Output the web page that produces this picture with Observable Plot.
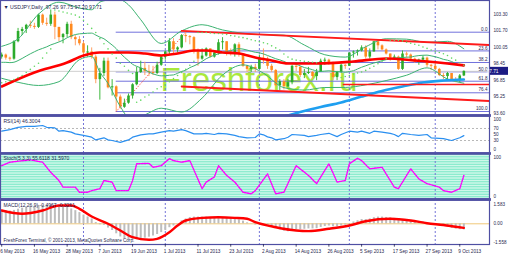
<!DOCTYPE html>
<html>
<head>
<meta charset="utf-8">
<script src="https://cdn.jsdelivr.net/npm/d3@7"></script>
<script src="https://cdn.jsdelivr.net/npm/@observablehq/plot@0.6"></script>
<style>
html, body { margin: 0; padding: 0; background: #ffffff; }
#chart { position: relative; width: 510px; height: 255px; overflow: hidden; background: #ffffff; }
#chart > svg { position: absolute; left: 0; }
</style>
</head>
<body>
<div id="chart"></div>
<script>
// ---------------- DATA ----------------
const titleText = "USDJPY,Daily  97.26 97.75 97.20 97.71";
const watermark = "Freshforex.ru";
const copyright = "FreshForex Terminal, \u00a9 2001-2013, MetaQuotes Software Corp.";

// date axis (bar index -> label)
const tickIdx = [0, 8, 16, 24, 32, 40, 48, 56, 64, 72, 80, 88, 96, 104, 112];
const tickLabels = ["6 May 2013", "16 May 2013", "28 May 2013", "7 Jun 2013", "19 Jun 2013", "1 Jul 2013",
  "11 Jul 2013", "23 Jul 2013", "2 Aug 2013", "14 Aug 2013", "26 Aug 2013", "5 Sep 2013",
  "17 Sep 2013", "27 Sep 2013", "9 Oct 2013"];
// month separators (first bar of Jun, Jul, Aug, Sep, Oct)
const sepIdx = [20, 40, 63, 85, 106];

// daily candles, 6 May 2013 .. 10 Oct 2013
const opens = [99.1,99.3,99.0,98.9,100.6,101.6,101.8,102.2,102.1,102.0,
  103.2,102.4,102.3,103.2,102.0,101.0,101.3,102.3,101.0,100.8,
  100.4,99.5,99.6,99.1,96.9,97.5,98.7,96.1,96.2,95.2,
  94.2,94.6,95.3,96.4,97.6,98.0,97.7,97.6,97.5,98.3,
  99.1,99.6,100.6,99.8,100.0,101.2,101.1,101.0,99.6,98.9,
  99.2,99.9,99.1,99.5,100.5,100.6,99.6,99.4,100.3,99.4,
  98.2,97.9,98.1,97.9,99.0,98.9,98.2,97.8,96.3,96.7,
  96.2,96.6,98.2,98.1,97.3,97.5,97.6,97.2,97.6,98.7,
  98.8,98.5,97.1,97.6,98.3,98.2,99.5,99.6,99.7,100.0,
  99.1,99.6,100.6,100.2,99.8,99.4,99.0,99.1,97.9,99.4,
  99.3,98.9,98.6,98.8,99.0,98.3,98.2,97.9,97.3,97.2,
  97.5,96.9,96.85,97.26];
const highs = [99.5,99.4,99.1,100.7,101.9,102.0,102.3,102.6,102.4,103.3,
  103.3,102.9,103.7,103.5,102.0,101.4,102.5,102.6,101.2,101.1,
  100.6,100.2,100.0,99.3,98.0,99.0,99.0,96.9,96.3,95.4,
  95.0,95.5,96.5,98.1,98.7,98.6,98.3,98.2,98.6,99.2,
  99.7,100.9,100.9,100.1,101.3,101.5,101.2,101.1,99.9,99.9,
  100.0,99.9,99.7,100.8,101.0,100.6,99.9,100.4,100.5,99.4,
  98.3,98.3,98.4,99.3,99.9,99.1,98.4,97.9,96.9,96.9,
  96.9,98.3,98.4,98.2,97.9,98.1,97.7,97.9,98.9,99.0,
  98.9,98.6,97.7,98.4,98.4,99.5,99.7,99.8,100.2,100.2,
  99.9,100.6,100.6,100.3,99.9,99.4,99.3,99.2,99.7,99.6,
  99.4,99.0,98.9,99.2,99.1,98.4,98.5,98.0,97.5,97.6,
  97.5,97.1,97.4,97.75];
const lows = [98.9,98.8,98.7,98.8,100.5,101.2,101.4,101.9,101.8,101.9,
  102.2,102.1,102.1,100.8,100.6,100.4,101.0,100.8,100.2,100.2,
  99.1,99.1,98.9,96.5,94.9,97.2,96.0,95.3,93.8,94.0,
  94.1,94.5,95.0,96.3,97.5,97.3,97.2,97.3,97.4,98.2,
  98.8,99.3,99.4,99.5,99.9,100.5,100.3,99.4,98.2,98.8,
  99.1,99.0,99.0,99.3,99.8,99.2,99.2,99.1,99.1,98.1,
  97.6,97.6,97.6,97.9,98.4,97.9,97.6,96.2,95.8,95.9,
  96.1,96.4,97.7,97.1,97.0,97.4,96.9,96.8,97.6,98.3,
  98.3,96.8,96.8,97.5,97.9,98.2,99.0,99.2,99.6,98.9,
  98.9,99.6,99.8,99.7,99.3,98.7,98.9,97.8,97.8,99.0,
  98.8,98.5,98.3,98.7,98.1,97.8,97.8,97.2,96.9,96.9,
  96.9,96.6,96.6,97.20];
const closes = [99.3,99.0,98.9,100.6,101.6,101.8,102.2,102.1,102.0,103.2,
  102.4,102.3,103.2,102.0,101.0,101.3,102.3,101.0,100.8,100.4,
  99.5,99.6,99.1,96.9,97.5,98.7,96.1,96.2,95.2,94.2,
  94.6,95.3,96.4,97.6,98.0,97.7,97.6,97.5,98.3,99.1,
  99.6,100.6,99.8,100.0,101.2,101.1,101.0,99.6,98.9,99.2,
  99.9,99.1,99.5,100.5,100.6,99.6,99.4,100.3,99.4,98.2,
  97.9,98.1,97.9,99.0,98.9,98.2,97.8,96.3,96.7,96.2,
  96.6,98.2,98.1,97.3,97.5,97.6,97.2,97.6,98.7,98.8,
  98.5,97.1,97.6,98.3,98.2,99.5,99.6,99.7,100.0,99.1,
  99.6,100.6,100.2,99.8,99.4,99.0,99.1,97.9,99.4,99.3,
  98.9,98.6,98.8,99.0,98.3,98.2,97.9,97.3,97.2,97.5,
  96.9,96.85,97.26,97.71];

// Bollinger bands (20,2): middle every bar, upper/lower at sampled bars
const bbMid = [98.59,98.59,98.56,98.60,98.76,98.97,99.20,99.42,99.62,99.81,
  99.95,100.10,100.29,100.43,100.58,100.75,100.99,101.17,101.30,101.37,
  101.40,101.43,101.44,101.25,101.05,100.89,100.59,100.28,99.93,99.48,
  99.09,98.74,98.40,98.20,98.05,97.87,97.64,97.46,97.34,97.27,
  97.28,97.33,97.36,97.52,97.70,97.82,98.07,98.24,98.43,98.68,
  98.94,99.13,99.29,99.42,99.55,99.64,99.73,99.87,99.92,99.88,
  99.79,99.67,99.57,99.52,99.41,99.26,99.10,98.94,98.83,98.68,
  98.51,98.47,98.40,98.24,98.08,97.98,97.87,97.74,97.70,97.73,
  97.76,97.71,97.69,97.66,97.62,97.69,97.77,97.94,98.11,98.25,
  98.40,98.52,98.63,98.75,98.85,98.92,99.01,99.03,99.06,99.09,
  99.11,99.19,99.25,99.28,99.29,99.22,99.14,99.02,98.88,98.80,
  98.67,98.48,98.33,98.23];
const bbIdx = [0,4,9,14,19,22,24,26,29,31,34,39,44,49,54,59,64,69,74,79,84,89,94,99,104,109,113];
const bbUpper = [100.15,100.88,103.29,104.46,103.89,103.72,104.47,104.65,104.68,104.20,102.75,100.43,101.66,102.26,101.75,101.42,101.29,101.24,100.28,99.33,99.10,100.11,100.89,100.85,100.53,100.64,99.91];
const bbLower = [97.03,96.64,96.33,96.70,98.85,99.16,97.63,96.53,94.28,93.28,93.35,94.11,93.74,95.10,97.35,98.34,97.53,96.12,95.88,96.13,96.14,96.39,96.81,97.33,98.05,96.96,96.55];

// red moving average (thick)
const maIdx = [0,8,16,20,24,31,35,39,43,47,50,54,58,62,66,70,77,86,94,101,109,113];
const maVal = [96.23,97.60,98.57,99.26,99.55,99.55,99.45,99.26,99.45,99.74,99.74,99.55,99.45,99.06,98.77,98.48,98.48,98.67,98.96,98.77,98.48,98.29];

// blue moving average (thick)
const blueIdx = [66,70,73,78,83,88,93,98,103,108,113];
const blueVal = [93.00,93.40,93.74,94.23,94.67,95.25,95.79,96.23,96.62,96.81,96.91];

// Parabolic SAR dots
const sarIdx = [0,1,2,3,4,5,6,7,8,9,10,11,12,
  13,14,15,16,17,18,19,20,21,22,23,24,25,26,27,28,29,30,31,32,
  33,34,35,36,37,38,39,40,41,42,43,44,45,46,47,
  48,49,50,51,52,53,54,55,56,57,58,59,60,61,62,63,64,65,66,67,68,69,70,71,72,73,74,75,76,77,
  83,84,85,86,87,88,89,90,91,92,93,94,
  95,96,97,98,99,100,101,102,103,104,105,106,107,108,109,110,111,112,113];
const sarVal = [96.6,96.7,96.8,96.9,97.1,97.3,97.6,97.9,98.2,98.5,99.0,99.5,99.9,
  103.7,103.6,103.5,103.4,103.3,103.2,103.0,102.7,102.3,101.9,101.5,100.9,100.4,99.9,99.4,99.0,98.5,98.2,97.8,97.5,
  94.7,94.9,95.2,95.4,95.7,96.0,96.2,96.4,96.7,97.0,97.3,97.6,97.9,98.3,98.7,
  101.5,101.5,101.5,101.45,101.4,101.4,101.35,101.3,101.2,101.15,101.05,101.0,100.9,100.8,100.7,100.6,100.5,100.4,100.2,100.0,99.8,99.4,99.1,98.9,98.8,98.75,98.7,98.65,98.6,98.55,
  97.1,97.2,97.3,97.45,97.55,97.65,97.8,98.0,98.2,98.45,98.7,98.95,
  100.75,100.75,100.72,100.68,100.55,100.45,100.35,100.25,100.08,99.95,99.80,99.66,99.55,99.42,99.25,99.0,98.8,98.55,98.3];

// trend channel (red rays) and horizontal red line
const chanIdx = [44, 119.3];
const chanUpper = [101.65, 100.28];
const chanLower = [96.23, 94.81];
const hLineStart = 83.5;
const hLinePrice = 96.42;

// Fibonacci retracement (13 Jun low -> 8 Jul high)
const fibStartIdx = 28, fibEndIdx = 45;
const fibLow = 93.79, fibHigh = 101.53;
const fibLevels = [0, 23.6, 38.2, 50, 61.8, 76.4, 100];

// price axis labels
const priceTicks = [103.30, 101.70, 100.05, 98.45, 96.85, 95.25, 93.60];

// RSI(14)
const rsiLabel = "RSI(14) 46.3004";
const rsiIdx = [0,2,4,6,8,10,11,13,14,15, 17,18,20,22,23,25,26,27,29,31,
  32,34,36,37,39,41,42,44,45,47, 49,50,52,53,55,57,58,60,62,63,
  64,65,66,67,69,70,71,74,75,77, 78,80,82,83,85,87,88,90,91,93,
  95,96,97,98,100,102,104,105,108,110, 112,113];
const rsiVal = [61,66,74,77,77,80,74,72,61,63, 58,52,47,41,32,39,32,30,24,32,
  41,49,52,52,58,63,61,66,63,52, 52,54,50,54,52,47,43,39,40,52,
  49,42,39,32,36,41,50,47,43,47, 50,54,43,50,61,58,61,54,61,58,
  54,50,43,54,50,47,50,39,36,30, 39,46.3];
const rsiTicks = [100, 70, 50, 30, 0];
const rsiLevels = [70, 30];

// Stochastic (5,3,3)
const stochLabel = "Stoch(5,3,3) 55.6118 31.5970";
const stIdx = [0,2,7,10,12,14,15,18,19,21, 22,24,25,27,28,31,32,33,36,37,
  39,41,42,44,46,49,50,52,53,55, 57,59,61,62,65,67,69,72,75,77,
  80,82,84,85,87,88,90,93,96,97, 100,102,104,107,108,110,112,113];
const stVal = [79,88,94,88,62,41,24,24,11,11, 15,20,41,37,15,15,41,84,85,75,
  79,97,92,88,92,20,37,50,79,54, 37,11,7,15,58,7,11,79,54,33,
  84,37,41,84,98,92,71,75,24,20, 71,45,33,24,15,11,20,54];
const stTicks = [100, 0];

// MACD(12,26,9)
const macdLabel = "MACD(12,26,9) -0.4967 -0.3261";
const macdHist = [1.10,1.08,1.05,1.10,1.20,1.28,1.35,1.40,1.44,1.50,
  1.52,1.52,1.55,1.52,1.45,1.38,1.35,1.22,1.08,0.92,
  0.72,0.56,0.40,0.10,-0.08,-0.12,-0.35,-0.55,-0.82,-1.08,
  -1.25,-1.32,-1.35,-1.30,-1.25,-1.18,-1.10,-1.00,-0.88,-0.72,
  -0.55,-0.32,-0.18,-0.02,0.25,0.40,0.52,0.55,0.55,0.55,
  0.55,0.52,0.50,0.50,0.52,0.48,0.42,0.38,0.32,0.22,
  0.08,-0.02,-0.10,-0.05,-0.02,-0.10,-0.20,-0.38,-0.50,-0.60,
  -0.65,-0.55,-0.48,-0.48,-0.45,-0.42,-0.42,-0.40,-0.30,-0.22,
  -0.18,-0.25,-0.25,-0.18,-0.12,0.02,0.15,0.25,0.35,0.35,
  0.40,0.50,0.55,0.55,0.52,0.48,0.45,0.30,0.32,0.32,
  0.28,0.22,0.18,0.15,0.08,0.02,-0.05,-0.15,-0.22,-0.25,
  -0.38,-0.44,-0.48,-0.50];
const sigIdx = [0,5,10,14,17,19,22,26,29,32,36,38,41,43,45,49,53,57,60,62,67,72,75,80,85,89,95,100,104,108,111,113];
const sigVal = [1.09,0.82,1.09,1.5,1.5,1.23,0.6,0,-0.55,-1.1,-1.31,-1.23,-0.69,-0.14,0.27,0.49,0.54,0.49,0.41,0.13,-0.28,-0.55,-0.6,-0.41,-0.14,0.21,0.41,0.27,0.05,-0.10,-0.24,-0.33];
const macdTicks = [1.583, 0, -1.558];

// ---------------- STYLE / GEOMETRY ----------------
const W = 510;
const xDomain = [-0.293, 119.27];          // bar index at left / right plot edge
const frameColor = "#4f4fa3";
const sepColor = "#7474d8";
const fibColor = "#7272dc";
const textColor = "#1f1f4f";
const bull = "#2cab2c", bear = "#ff8a1e";
const bullWick = "#3cb83c", bearWick = "#ffa064";
const font = "Liberation Sans, Arial, sans-serif";

const n = closes.length;
const bars = d3.range(n).map(i => ({i, o: opens[i], h: highs[i], l: lows[i], c: closes[i], up: closes[i] >= opens[i]}));
const fibPrices = fibLevels.map(l => fibHigh - (fibHigh - fibLow) * l / 100);
const lastClose = closes[n - 1];

function panel(height, yDomain, marks, extra = {}) {
  return Plot.plot({
    width: W, height,
    marginLeft: 0, marginRight: 21, marginTop: 0, marginBottom: extra.marginBottom ?? 0,
    x: {domain: xDomain, axis: null},
    y: {domain: yDomain, axis: null},
    style: {background: "transparent", overflow: "visible", fontFamily: font},
    marks
  });
}
const sepMark = () => Plot.ruleX(sepIdx, {x: d => d, stroke: sepColor, strokeDasharray: "2,2", strokeWidth: 1});
const rightLabels = (vals, fmt) => Plot.text(vals, {y: d => d, text: fmt, frameAnchor: "right", dx: 4, textAnchor: "start", fontSize: 4.6, fill: textColor});

// ---------------- MAIN PRICE PANEL ----------------
const main = panel(115, [93.40, 104.624], [
  Plot.text([watermark], {frameAnchor: "top-left", dx: 160, dy: 90, lineAnchor: "bottom", textAnchor: "start",
    fontSize: 34, fill: "#a9e83e", fontFamily: font}),
  sepMark(),
  Plot.ruleY(fibPrices, {y: d => d, x1: fibStartIdx, x2: xDomain[1], stroke: fibColor, strokeWidth: 1}),
  Plot.text(fibLevels, {y: (d, k) => fibPrices[k], text: d => d.toFixed(1), frameAnchor: "right", dx: -2, dy: -2.8,
    textAnchor: "end", fontSize: 4.6, fill: textColor}),
  Plot.link([0], {x1: fibStartIdx, y1: fibLow, x2: fibEndIdx, y2: fibHigh, stroke: "#ff3030", strokeDasharray: "1,1.5", strokeWidth: 1}),
  Plot.ruleY([lastClose], {y: d => d, stroke: "#cfcfcf", strokeWidth: 1}),
  // candles
  Plot.ruleX(bars, {x: "i", y1: "l", y2: "h", stroke: d => d.up ? bullWick : bearWick, strokeWidth: 1, clip: true}),
  Plot.ruleX(bars, {x: "i", y1: "o", y2: "c", stroke: d => d.up ? bull : bear, strokeWidth: 2.6, clip: true}),
  // Bollinger bands
  Plot.line(bbIdx, {x: d => d, y: (d, k) => bbUpper[k], stroke: "#3cb371", strokeWidth: 1, curve: "monotone-x", clip: true}),
  Plot.line(bbMid, {x: (d, k) => k, y: d => d, stroke: "#3cb371", strokeWidth: 1, curve: "monotone-x", clip: true}),
  Plot.line(bbIdx, {x: d => d, y: (d, k) => bbLower[k], stroke: "#3cb371", strokeWidth: 1, curve: "monotone-x", clip: true}),
  // moving averages
  Plot.line(maIdx, {x: d => d, y: (d, k) => maVal[k], stroke: "#ff0000", strokeWidth: 2.6, curve: "monotone-x", clip: true}),
  Plot.line(blueIdx, {x: d => d, y: (d, k) => blueVal[k], stroke: "#1e9ff0", strokeWidth: 2.6, curve: "monotone-x", clip: true}),
  // channel + horizontal line
  Plot.line(chanIdx, {x: d => d, y: (d, k) => chanUpper[k], stroke: "#ff1a1a", strokeWidth: 1.8, clip: true}),
  Plot.line(chanIdx, {x: d => d, y: (d, k) => chanLower[k], stroke: "#ff1a1a", strokeWidth: 1.8, clip: true}),
  Plot.ruleY([hLinePrice], {y: d => d, x1: hLineStart, x2: xDomain[1], stroke: "#ff1a1a", strokeWidth: 1.6}),
  // parabolic SAR
  Plot.dot(sarIdx, {x: d => d, y: (d, k) => sarVal[k], r: 0.8, fill: "#62d862", stroke: "none", clip: true}),
  // frame & labels
  Plot.frame({stroke: frameColor, strokeWidth: 1.2}),
  Plot.frame({anchor: "bottom", stroke: frameColor, strokeWidth: 2.5}),
  rightLabels(priceTicks, d => d.toFixed(2)),
  Plot.text(["\u25BC " + titleText], {frameAnchor: "top-left", dx: 3, dy: 6.5, lineAnchor: "middle", textAnchor: "start",
    fontSize: 5.2, fill: textColor})
]);

// ---------------- RSI PANEL ----------------
const rsi = panel(38, [-13.33, 113.33], [
  sepMark(),
  Plot.ruleY(rsiLevels, {y: d => d, stroke: "#b8b8b8", strokeDasharray: "2,2", strokeWidth: 1}),
  Plot.line(rsiIdx, {x: d => d, y: (d, k) => rsiVal[k], stroke: "#2a8ff0", strokeWidth: 1.2, clip: true}),
  Plot.frame({stroke: frameColor, strokeWidth: 1.2}),
  Plot.frame({anchor: "top", stroke: frameColor, strokeWidth: 2.5}),
  Plot.frame({anchor: "bottom", stroke: frameColor, strokeWidth: 2.5}),
  rightLabels(rsiTicks, d => String(d)),
  Plot.text([rsiLabel], {frameAnchor: "top-left", dx: 3, dy: 5.5, lineAnchor: "middle", textAnchor: "start", fontSize: 5, fill: textColor})
]);

// ---------------- STOCHASTIC PANEL ----------------
const stoch = panel(46, [-7.69, 110.26], [
  Plot.frame({fill: "#cff8ea", stroke: "none"}),
  Plot.ruleY(d3.range(-7, 111, 6.4), {y: d => d, stroke: "#78e8c6", strokeWidth: 1}),
  sepMark(),
  Plot.line(stIdx, {x: d => d, y: (d, k) => stVal[k], stroke: "#ff00ff", strokeWidth: 1.4, strokeDasharray: "1.6,1.1", clip: true}),
  Plot.frame({stroke: frameColor, strokeWidth: 1.2}),
  Plot.frame({anchor: "top", stroke: frameColor, strokeWidth: 2.5}),
  Plot.frame({anchor: "bottom", stroke: frameColor, strokeWidth: 2.5}),
  rightLabels(stTicks, d => String(d)),
  Plot.text([stochLabel], {frameAnchor: "top-left", dx: 3, dy: 5.3, lineAnchor: "middle", textAnchor: "start", fontSize: 5, fill: textColor})
]);

// ---------------- MACD PANEL + DATE AXIS ----------------
const macdDomain = [-1.698, 1.993];
const macd = panel(56, macdDomain, [
  sepMark(),
  Plot.ruleY([0], {y: d => d, stroke: "#f0c878", strokeWidth: 1}),
  Plot.ruleX(macdHist, {x: (d, k) => k, y1: 0, y2: d => d, stroke: "#bdbdbd", strokeWidth: 2, clip: true}),
  Plot.line(sigIdx, {x: d => d, y: (d, k) => sigVal[k], stroke: "#ff0000", strokeWidth: 2.4, curve: "monotone-x", clip: true}),
  Plot.frame({stroke: frameColor, strokeWidth: 1.2}),
  Plot.frame({anchor: "top", stroke: frameColor, strokeWidth: 2.5}),
  rightLabels(macdTicks, d => d === 0 ? "0.00" : d.toFixed(3)),
  Plot.text([macdLabel], {frameAnchor: "top-left", dx: 3, dy: 6, lineAnchor: "middle", textAnchor: "start", fontSize: 5, fill: textColor}),
  Plot.text([copyright], {frameAnchor: "bottom-left", dx: 3, dy: -2.5, lineAnchor: "bottom", textAnchor: "start", fontSize: 4.6, fill: textColor}),
  // date axis
  Plot.ruleX(tickIdx, {x: d => d, y1: macdDomain[0], y2: macdDomain[0] - 0.22, stroke: textColor, strokeWidth: 0.8}),
  Plot.text(tickIdx, {x: d => d, text: (d, k) => tickLabels[k], frameAnchor: "bottom", dy: 6.5, dx: -1.5,
    lineAnchor: "middle", textAnchor: "start", fontSize: 4.7, fill: textColor})
], {marginBottom: 11});

// ---------------- ASSEMBLE ----------------
const chart = document.getElementById("chart");
[[main, 0], [rsi, 115], [stoch, 153], [macd, 199]].forEach(([svg, top]) => {
  svg.style.top = top + "px";
  chart.appendChild(svg);
});

// watermark width as in the reference
d3.select(main).selectAll("text").filter(function () { return this.textContent === watermark; })
  .attr("textLength", 197).attr("lengthAdjust", "spacingAndGlyphs");

// current-price marker on the price axis, placed through Plot's scales
const yPx = main.scale("y").apply(lastClose);
const xR = main.scale("x").range[1];
const g = d3.select(main).append("g");
g.append("rect").attr("x", xR + 1).attr("y", yPx - 4).attr("width", 18).attr("height", 8).attr("fill", "#1c1c84");
g.append("text").attr("x", xR + 3.5).attr("y", yPx).attr("dy", "0.35em").attr("fill", "#ffffff")
  .attr("font-size", 4.8).attr("font-family", font).text(lastClose.toFixed(2));
</script>
</body>
</html>
